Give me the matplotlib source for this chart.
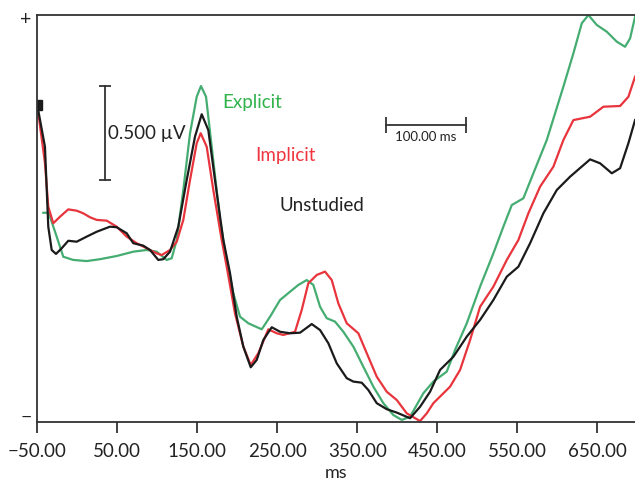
import matplotlib
matplotlib.use("Agg")
import matplotlib.pyplot as plt

plt.rcParams['font.family'] = ['Lato', 'DejaVu Sans']

# ERP waveforms: time (ms) and amplitude (uV)
explicit_ms = [-42.5, -36.6, -34.1, -25.75, -17.5, -5, 11.75, 28.4, 49.25, 70, 86.75, 99.25,
               111.75, 118, 124.25, 132.5, 140.9, 149.25, 154.6, 160.9, 168, 178.4, 184.6, 195,
               203.4, 213.75, 230.5, 240.9, 253.4, 265.9, 276.25, 286.75, 295, 303.4, 311.75,
               322.1, 332.5, 345, 357.5, 370, 382.5, 395, 405.5, 415.9, 432.5, 445, 461.75,
               472.1, 486.75, 503.4, 520, 532.5, 543, 557.5, 570, 586.75, 607.5, 620, 630.5,
               638.75, 649.25, 661.75, 674.25, 684.6, 690.9, 697.1]
explicit_uv = [0.198, 0.198, 0.177, 0.071, -0.036, -0.053, -0.059, -0.049, -0.032, -0.009, 0.0,
               -0.009, -0.053, -0.044, 0.053, 0.319, 0.621, 0.815, 0.872, 0.815, 0.549, 0.160,
               0.0, -0.230, -0.355, -0.390, -0.422, -0.355, -0.266, -0.222, -0.186, -0.160,
               -0.186, -0.302, -0.363, -0.381, -0.435, -0.514, -0.621, -0.727, -0.815, -0.878,
               -0.904, -0.887, -0.762, -0.700, -0.647, -0.532, -0.390, -0.195, -0.018, 0.124,
               0.239, 0.275, 0.408, 0.585, 0.869, 1.046, 1.206, 1.250, 1.197, 1.161, 1.108,
               1.081, 1.126, 1.241]

implicit_ms = [-50, -40.4, -36.25, -30, -21.6, -11.25, -0.75, 7.5, 15.9, 24.25, 36.75, 49.25,
               61.75, 74.25, 86.75, 99.25, 105.5, 115.9, 124.25, 132.5, 140.9, 149.25, 154.25,
               161.75, 170, 180.5, 186.75, 197.1, 207.5, 216.75, 226.25, 238.75, 249.25, 257.5,
               272.1, 280.5, 288.75, 299.25, 309.6, 318, 326.25, 336.75, 351.25, 361.75, 374.25,
               386.75, 399.25, 411.75, 428.4, 436.75, 445, 465.9, 478.4, 490.9, 503.4, 520,
               536.75, 551.25, 563.75, 578.4, 595, 607.5, 620, 640.9, 657.5, 678.4, 688.75, 697.1]
implicit_uv = [0.771, 0.463, 0.230, 0.142, 0.177, 0.216, 0.209, 0.195, 0.174, 0.160, 0.156,
               0.124, 0.071, 0.036, 0.009, -0.018, -0.027, 0.0, 0.044, 0.160, 0.372, 0.568,
               0.621, 0.549, 0.319, 0.053, -0.089, -0.337, -0.514, -0.612, -0.549, -0.422,
               -0.443, -0.452, -0.435, -0.319, -0.177, -0.133, -0.115, -0.160, -0.284, -0.390,
               -0.443, -0.549, -0.674, -0.754, -0.798, -0.869, -0.910, -0.869, -0.815, -0.727,
               -0.638, -0.479, -0.302, -0.195, -0.053, 0.053, 0.195, 0.337, 0.443, 0.585, 0.691,
               0.709, 0.762, 0.766, 0.815, 0.922]

unstudied_ms = [-50, -40.4, -36.25, -32, -26.6, -19.5, -11.25, -0.75, 11.75, 24.25, 40.9, 49.25,
                61.75, 70, 82.5, 90.9, 101.25, 107.5, 115.9, 126.25, 136.75, 147.1, 155.5,
                163.75, 172.1, 182.5, 190.9, 199.25, 207.5, 216.75, 224.25, 232.5, 243, 253.4,
                265.9, 278.4, 293, 303.4, 313.75, 324.25, 336.75, 345, 355.5, 363.75, 374.25,
                386.75, 399.25, 415.9, 428.4, 440.9, 453.4, 470, 486.75, 503.4, 520, 536.75,
                551.25, 565.9, 582.5, 599.25, 615.9, 640.9, 653.4, 668, 678.4, 688.75, 697.1]
unstudied_uv = [0.771, 0.549, 0.124, 0.0, -0.021, 0.009, 0.049, 0.044, 0.071, 0.097, 0.124,
                0.121, 0.089, 0.036, 0.023, 0.0, -0.053, -0.049, -0.009, 0.124, 0.372, 0.603,
                0.722, 0.638, 0.372, 0.053, -0.124, -0.355, -0.514, -0.624, -0.585, -0.479,
                -0.411, -0.435, -0.443, -0.440, -0.394, -0.426, -0.496, -0.603, -0.682, -0.700,
                -0.706, -0.745, -0.815, -0.847, -0.865, -0.895, -0.834, -0.754, -0.638, -0.568,
                -0.461, -0.372, -0.266, -0.142, -0.089, 0.036, 0.195, 0.319, 0.390, 0.482,
                0.461, 0.408, 0.435, 0.568, 0.691]

xticks = [-50, 50, 150, 250, 350, 450, 550, 650]
xtick_labels = ['\u221250.00', '50.00', '150.00', '250.00', '350.00', '450.00', '550.00', '650.00']

green_line = '#45ad72'
red_line = '#e8343c'
black_line = '#1b1b1b'

fig = plt.figure(figsize=(6.35, 4.87), dpi=100)
ax = fig.add_axes([0.0587, 0.1335, 0.9413, 0.8357])

ax.plot(explicit_ms, explicit_uv, color=green_line, lw=1.6, solid_joinstyle='round')
ax.plot(implicit_ms, implicit_uv, color=red_line, lw=1.6, solid_joinstyle='round')
ax.plot(unstudied_ms, unstudied_uv, color=black_line, lw=1.6, solid_joinstyle='round',
        marker='s', markevery=[0], markersize=7.5)

ax.set_xlim(-50, 697)
ax.set_ylim(-0.915, 1.25)

# scale bars
ax.plot([34.6, 34.6], [0.372, 0.872], color='#333333', lw=1.3, marker='_', markersize=8,
        markeredgewidth=1.3)
ax.text(38.4, 0.622, '0.500 \u00b5V', fontsize=13.5, color='#222222', ha='left', va='center')
ax.plot([385.75, 485.75], [0.665, 0.665], color='#333333', lw=1.3, marker='|', markersize=12,
        markeredgewidth=1.3)
ax.text(435.5, 0.60, '100.00 ms', fontsize=9.5, color='#222222', ha='center', va='center')

# condition labels
ax.text(180.9, 0.787, 'Explicit', fontsize=13.5, color='#2fb34a', ha='left', va='center')
ax.text(222.1, 0.505, 'Implicit', fontsize=13.5, color='#ef3640', ha='left', va='center')
ax.text(252.1, 0.239, 'Unstudied', fontsize=13.5, color='#222222', ha='left', va='center')

for side in ['left', 'bottom', 'top']:
    ax.spines[side].set_color('#333333')
    ax.spines[side].set_linewidth(1.3)
ax.spines['right'].set_visible(False)

ax.set_xticks(xticks, xtick_labels)
ax.tick_params(axis='x', direction='out', length=8, width=1.3, color='#333333',
               labelsize=13.5, labelcolor='#222222', pad=7)
ax.set_yticks([-0.88, 1.235], ['\u2212', '+'])
ax.tick_params(axis='y', length=0, labelsize=14, labelcolor='#222222', pad=4)
ax.set_xlabel('ms', fontsize=13, color='#222222', labelpad=4)

fig.savefig('out.png', dpi=100)
